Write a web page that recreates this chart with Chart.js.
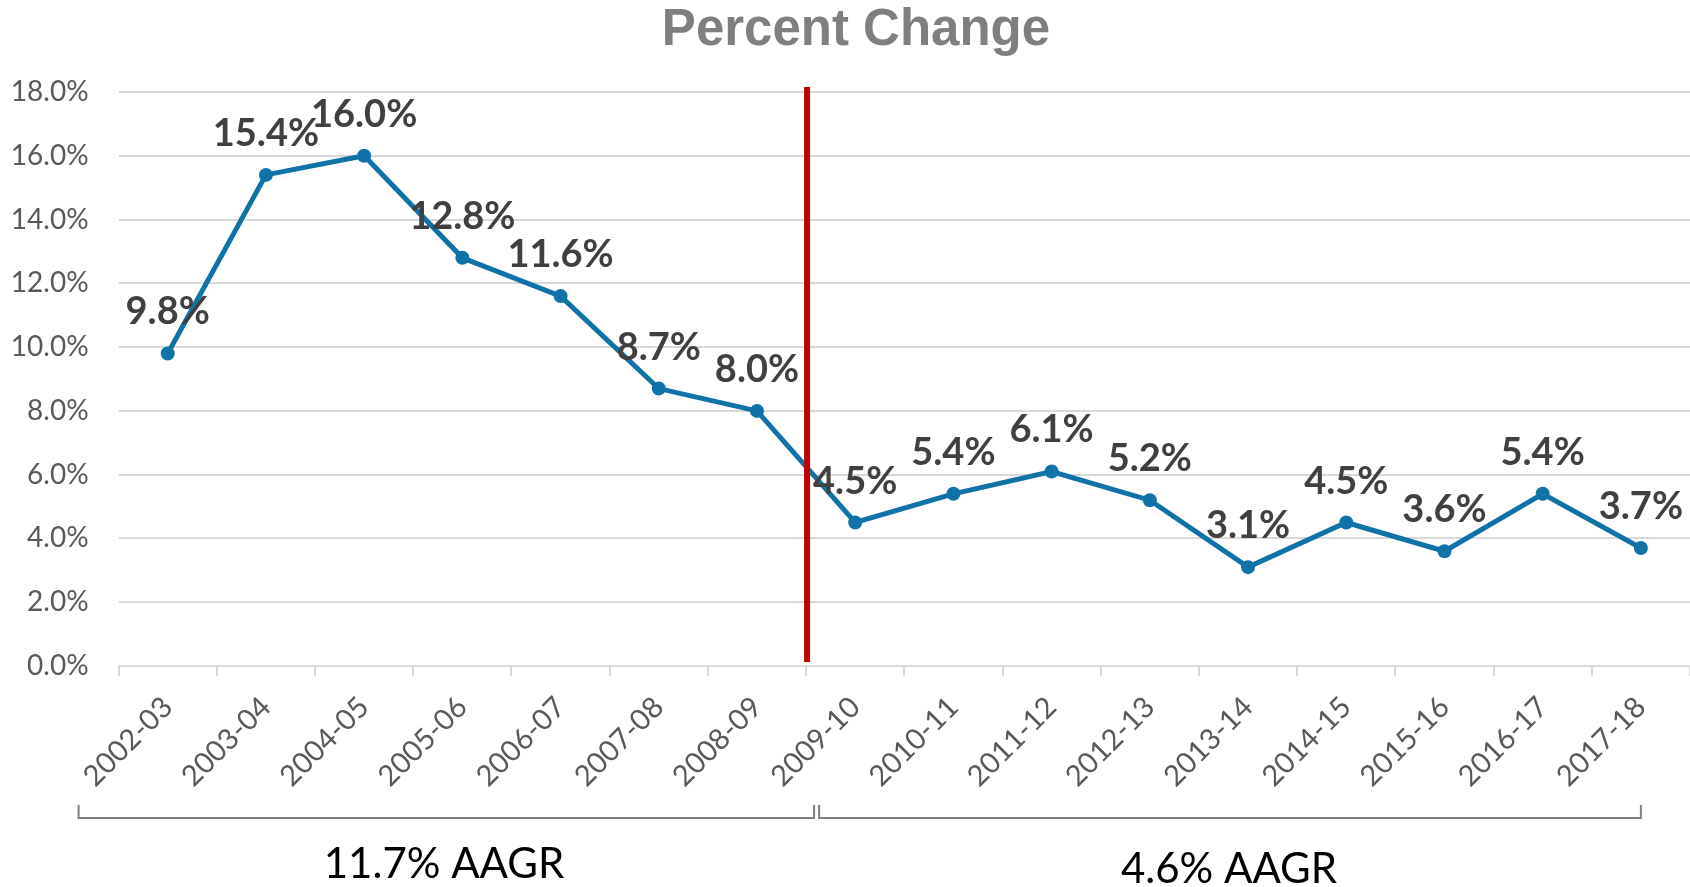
<!DOCTYPE html>
<html>
<head>
<meta charset="utf-8">
<title>Percent Change</title>
<script src="https://cdn.jsdelivr.net/npm/chart.js@4.4.1/dist/chart.umd.min.js"></script>
<style>
  html, body { margin: 0; padding: 0; background: #fff; }
  #wrap { width: 1690px; height: 887px; position: relative; }
</style>
</head>
<body>
<div id="wrap"><canvas id="chart"></canvas></div>
<script>
'use strict';

// ─── Data ─────────────────────────────────────────────────────────────────────

const years = [
  '2002-03', '2003-04', '2004-05', '2005-06', '2006-07', '2007-08', '2008-09',
  '2009-10', '2010-11', '2011-12', '2012-13', '2013-14', '2014-15', '2015-16',
  '2016-17', '2017-18',
];
const pctChange = [9.8, 15.4, 16.0, 12.8, 11.6, 8.7, 8.0, 4.5, 5.4, 6.1, 5.2, 3.1, 4.5, 3.6, 5.4, 3.7];
const yTicks = [0, 2, 4, 6, 8, 10, 12, 14, 16, 18];
const splitIndex = 7;                       // first year of the second period
const periodLabels = ['11.7% AAGR', '4.6% AAGR'];
const chartTitle = 'Percent Change';

// ─── Styling ──────────────────────────────────────────────────────────────────

const BODY_FONT  = 'Lato, "Open Sans", sans-serif';
const TITLE_FONT = '"Liberation Sans", Arial, sans-serif';
const LINE_BLUE  = '#1072A6';
const GRID_GREY  = '#D9D9D9';

// ─── Overlay plugin: title, divider, value labels, period brackets ────────────

const overlayPlugin = {
  id: 'overlay',
  afterDatasetsDraw(chart) {
    const { ctx, chartArea, scales } = chart;
    const x = scales.x;
    const y = scales.y;
    const meta = chart.getDatasetMeta(0);

    ctx.save();

    // title
    ctx.font = `bold 51px ${TITLE_FONT}`;
    ctx.fillStyle = '#7F7F7F';
    ctx.textAlign = 'center';
    ctx.textBaseline = 'alphabetic';
    ctx.fillText(chartTitle, 856, 45);

    // red divider between the two periods
    const splitX = (x.getPixelForValue(splitIndex - 1) + x.getPixelForValue(splitIndex)) / 2;
    ctx.strokeStyle = '#C00000';
    ctx.lineWidth = 6;
    ctx.beginPath();
    ctx.moveTo(splitX + 1, y.getPixelForValue(yTicks[yTicks.length - 1]) - 5);
    ctx.lineTo(splitX + 1, y.getPixelForValue(0) - 4);
    ctx.stroke();

    // value labels
    ctx.font = `bold 38px ${BODY_FONT}`;
    ctx.fillStyle = '#404040';
    meta.data.forEach((pt, i) => {
      ctx.fillText(pctChange[i].toFixed(1) + '%', pt.x, pt.y - 29);
    });

    // period brackets
    const lastX = meta.data[meta.data.length - 1].x;
    ctx.strokeStyle = '#7F7F7F';
    ctx.lineWidth = 2;
    const bracket = (x0, x1) => {
      ctx.beginPath();
      ctx.moveTo(x0, 805);
      ctx.lineTo(x0, 818);
      ctx.lineTo(x1, 818);
      ctx.lineTo(x1, 805);
      ctx.stroke();
    };
    bracket(chartArea.left - 40, splitX + 8);
    bracket(splitX + 13, lastX);

    ctx.font = `42px ${BODY_FONT}`;
    ctx.fillStyle = '#000000';
    ctx.fillText(periodLabels[0], 444, 878);
    ctx.fillText(periodLabels[1], 1229, 883);

    ctx.restore();
  },
};

// ─── Chart ────────────────────────────────────────────────────────────────────

new Chart(document.getElementById('chart'), {
  type: 'line',
  data: {
    labels: years,
    datasets: [{
      label: 'Percent Change',
      data: pctChange,
      borderColor: LINE_BLUE,
      backgroundColor: LINE_BLUE,
      borderWidth: 5,
      pointRadius: 7,
      pointBorderWidth: 0,
      pointBackgroundColor: LINE_BLUE,
      tension: 0,
      clip: false,
    }],
  },
  options: {
    responsive: true,
    maintainAspectRatio: false,
    animation: false,
    layout: { autoPadding: false, padding: { top: 92, right: 0, bottom: 0, left: 0 } },
    plugins: {
      legend: { display: false },
      title: { display: false },
      tooltip: { enabled: false },
    },
    scales: {
      x: {
        offset: true,
        grid: {
          offset: true,
          drawOnChartArea: false,
          drawTicks: true,
          tickLength: 10,
          color: GRID_GREY,
          lineWidth: 2,
        },
        border: { display: true, color: GRID_GREY, width: 2 },
        ticks: {
          autoSkip: false,
          minRotation: 45,
          maxRotation: 45,
          padding: 14,
          color: '#595959',
          font: { family: BODY_FONT, size: 29 },
        },
        afterFit: (s) => {
          s.height = 221;
          s.paddingLeft = 0;
          s.paddingRight = 0;
        },
      },
      y: {
        min: 0,
        max: 18,
        afterBuildTicks: (s) => { s.ticks = yTicks.map((v) => ({ value: v })); },
        grid: { color: GRID_GREY, lineWidth: 2, drawTicks: false },
        border: { display: false },
        ticks: {
          padding: 30,
          color: '#595959',
          font: { family: BODY_FONT, size: 28 },
          callback: (v) => v.toFixed(1) + '%',
        },
        afterFit: (s) => { s.width = 118.6; },
      },
    },
  },
  plugins: [overlayPlugin],
});
</script>
</body>
</html>
